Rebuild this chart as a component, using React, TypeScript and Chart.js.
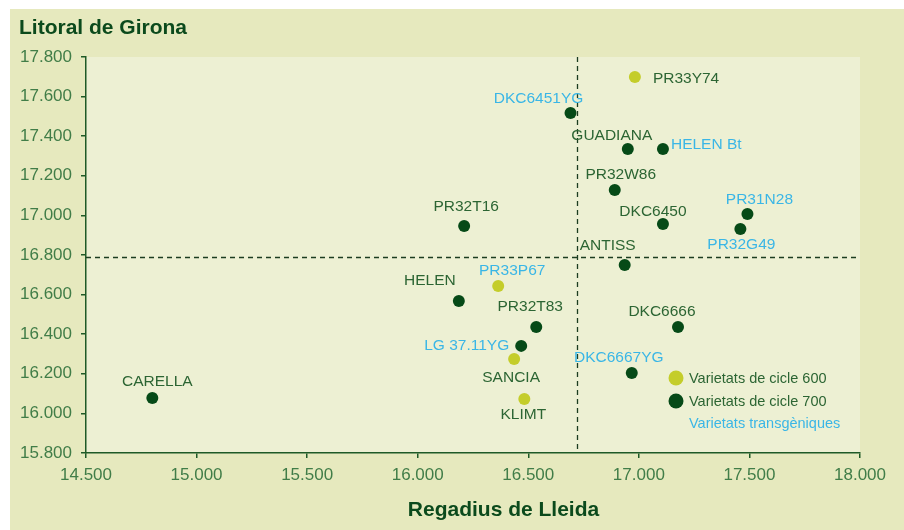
import React, { useEffect, useRef } from "react";
import { Chart, registerables } from "chart.js";

Chart.register(...registerables);

const names = ["CARELLA","PR32T16","HELEN","PR33P67","PR32T83","LG 37.11YG","SANCIA","KLIMT","DKC6451YG","PR33Y74","GUADIANA","HELEN Bt","PR32W86","DKC6450","PR31N28","PR32G49","ANTISS","DKC6666","DKC6667YG"];
const lleida = [14800,16210,16186,16364,16536,16468,16436,16482,16691,16982,16950,17109,16891,17109,17491,17459,16936,17177,16968];
const girona = [16078,16947,16568,16644,16436,16341,16275,16073,17517,17699,17335,17335,17128,16957,17007,16931,16750,16436,16204];
const cycle = [700,700,700,600,700,700,600,600,700,600,700,700,700,700,700,700,700,700,700];
const transgenic = [false,false,false,true,false,true,false,false,true,false,false,true,false,false,true,true,false,false,true];
const meanLleida = 16722;
const meanGirona = 16790;
const legendLabels = ["Varietats de cicle 600","Varietats de cicle 700","Varietats transgèniques"];
const titleText = "Litoral de Girona";
const xTitleText = "Regadius de Lleida";

// label placement: [dx, dy, align]
const labelPlace: [number, number, CanvasTextAlign][] = [
  [5,-18,"center"],[2,-21,"center"],[-29,-22,"center"],[14,-17,"center"],[-6,-22,"center"],
  [-12,-2,"right"],[-3,17,"center"],[-1,14,"center"],[-32,-16,"center"],[18,0,"left"],
  [-16,-15,"center"],[8,-6,"left"],[6,-17,"center"],[-10,-14,"center"],[12,-16,"center"],
  [1,14,"center"],[-17,-21,"center"],[-16,-17,"center"],[-13,-17,"center"]
];

const C_DARK = "#064a17";
const C_YELLOW = "#c4cd2a";
const C_BLUE = "#3ab6e6";
const C_TEXT = "#2c6533";
const C_AXIS = "#1f5a27";
const FONT = "'Liberation Sans', Arial, Helvetica, sans-serif";

const fmt = (v: number) => {
  const s = Math.round(v).toString();
  return s.replace(/\B(?=(\d{3})+(?!\d))/g, ".");
};

export default function App() {
  const ref = useRef<HTMLCanvasElement | null>(null);
  useEffect(() => {
    document.body.style.margin = "0";
    const canvas = ref.current!;
    const idx600 = names.map((_, i) => i).filter(i => cycle[i] === 600);
    const idx700 = names.map((_, i) => i).filter(i => cycle[i] === 700);

    const bgPlugin = {
      id: "bg",
      beforeDraw(chart: any) {
        const { ctx, chartArea } = chart;
        ctx.save();
        ctx.fillStyle = "#ffffff";
        ctx.fillRect(0, 0, chart.width, chart.height);
        ctx.fillStyle = "#e6e9be";
        ctx.fillRect(10, 9, chart.width - 10, chart.height - 9);
        ctx.fillStyle = "#edf0d3";
        ctx.fillRect(chartArea.left, chartArea.top, chartArea.right - chartArea.left, chartArea.bottom - chartArea.top);
        ctx.restore();
      },
      beforeDatasetsDraw(chart: any) {
        const { ctx, chartArea, scales } = chart;
        const x = scales.x.getPixelForValue(meanLleida);
        const y = scales.y.getPixelForValue(meanGirona);
        ctx.save();
        ctx.strokeStyle = "#1c3d20";
        ctx.lineWidth = 1.3;
        ctx.setLineDash([5, 4]);
        ctx.beginPath();
        ctx.moveTo(Math.round(x) + 0.5, chartArea.top);
        ctx.lineTo(Math.round(x) + 0.5, chartArea.bottom);
        ctx.moveTo(chartArea.left, Math.round(y) + 0.5);
        ctx.lineTo(chartArea.right, Math.round(y) + 0.5);
        ctx.stroke();
        ctx.restore();
      },
      afterDraw(chart: any) {
        const { ctx, scales } = chart;
        ctx.save();
        // point labels
        ctx.font = `15.5px ${FONT}`;
        ctx.textBaseline = "middle";
        names.forEach((n, i) => {
          const px = scales.x.getPixelForValue(lleida[i]);
          const py = scales.y.getPixelForValue(girona[i]);
          const [dx, dy, al] = labelPlace[i];
          ctx.textAlign = al;
          ctx.fillStyle = transgenic[i] ? C_BLUE : C_TEXT;
          ctx.fillText(n, px + dx, py + dy + 1.5);
        });
        // title
        ctx.font = `bold 21px ${FONT}`;
        ctx.fillStyle = "#0b4a1c";
        ctx.textAlign = "left";
        ctx.fillText(titleText, 19, 28);
        ctx.textAlign = "center";
        ctx.fillText(xTitleText, 503.5, 510);
        // legend
        const lx = 676, ly = 378;
        ctx.beginPath();
        ctx.fillStyle = C_YELLOW;
        ctx.arc(lx, ly, 7.5, 0, Math.PI * 2);
        ctx.fill();
        ctx.beginPath();
        ctx.fillStyle = C_DARK;
        ctx.arc(lx, ly + 23, 7.5, 0, Math.PI * 2);
        ctx.fill();
        ctx.font = `14.5px ${FONT}`;
        ctx.textAlign = "left";
        ctx.fillStyle = C_TEXT;
        ctx.fillText(legendLabels[0], lx + 13, ly + 1);
        ctx.fillText(legendLabels[1], lx + 13, ly + 24);
        ctx.fillStyle = C_BLUE;
        ctx.fillText(legendLabels[2], lx + 13, ly + 46);
        ctx.restore();
      }
    };

    const chart = new Chart(canvas, {
      type: "scatter",
      data: {
        datasets: [
          {
            label: legendLabels[0],
            data: idx600.map(i => ({ x: lleida[i], y: girona[i] })),
            backgroundColor: C_YELLOW,
            borderWidth: 0,
            pointRadius: 6,
          },
          {
            label: legendLabels[1],
            data: idx700.map(i => ({ x: lleida[i], y: girona[i] })),
            backgroundColor: C_DARK,
            borderWidth: 0,
            pointRadius: 6,
          },
        ],
      },
      options: {
        responsive: false,
        animation: false,
        events: [],
        layout: { padding: { left: 10, top: 57, right: 44, bottom: 0 } },
        plugins: { legend: { display: false }, tooltip: { enabled: false }, title: { display: false } },
        scales: {
          x: {
            type: "linear",
            min: 14500,
            max: 18000,
            afterFit(scale: any) { scale.height = 77; },
            border: { display: true, color: C_AXIS, width: 1.5 },
            grid: { display: true, drawOnChartArea: false, drawTicks: true, tickLength: 5, color: C_AXIS, lineWidth: 1.5 },
            ticks: {
              stepSize: 500,
              color: "#417d48",
              font: { size: 17, family: FONT },
              padding: 7,
              maxRotation: 0,
              callback: (v: any) => fmt(Number(v)),
            },
          },
          y: {
            type: "linear",
            min: 15800,
            max: 17800,
            afterFit(scale: any) { scale.width = 76; },
            border: { display: true, color: C_AXIS, width: 1.5 },
            grid: { display: true, drawOnChartArea: false, drawTicks: true, tickLength: 5, color: C_AXIS, lineWidth: 1.5 },
            ticks: {
              stepSize: 200,
              color: "#417d48",
              font: { size: 17, family: FONT },
              padding: 9,
              callback: (v: any) => fmt(Number(v)),
            },
          },
        },
      } as any,
      plugins: [bgPlugin],
    });
    return () => chart.destroy();
  }, []);
  return <canvas ref={ref} width={904} height={530} style={{ display: "block" }} />;
}
